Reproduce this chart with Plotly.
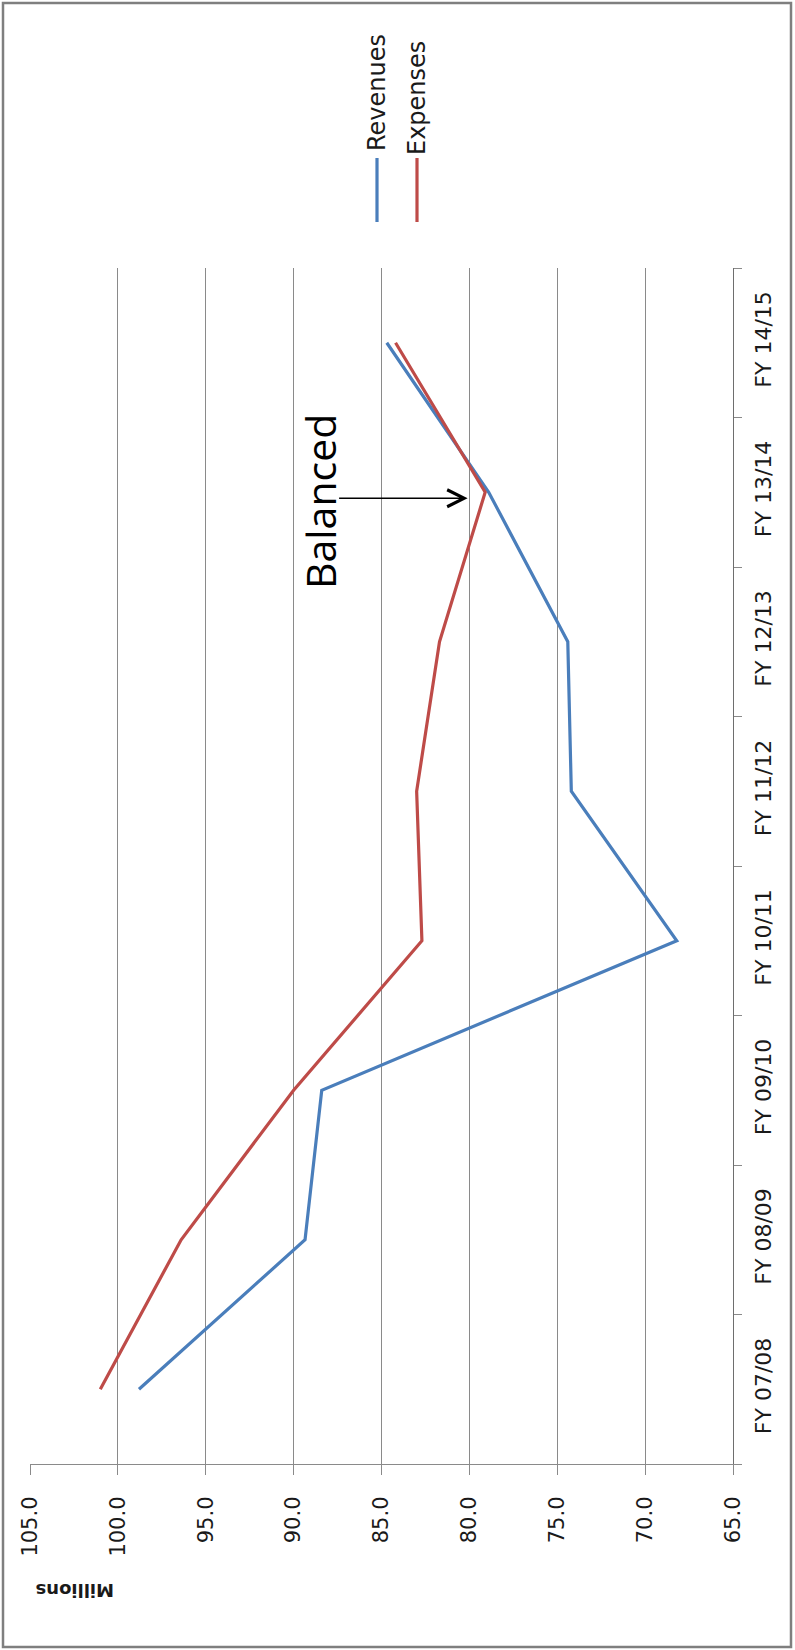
import plotly.graph_objects as go

categories = ["FY 07/08", "FY 08/09", "FY 09/10", "FY 10/11",
              "FY 11/12", "FY 12/13", "FY 13/14", "FY 14/15"]
revenues = [98.8, 89.35, 88.4, 68.2, 74.2, 74.4, 78.9, 84.7]
expenses = [101.0, 96.4, 90.0, 82.7, 83.0, 81.7, 79.1, 84.2]
value_ticks = [65, 70, 75, 80, 85, 90, 95, 100, 105]

BLUE = "#4A7EBB"
RED = "#BE4B48"
GRID = "#8a8a8a"

W, H = 795, 1650
L, R, T, B = 30, 62, 268, 186
PW, PH = W - L - R, H - T - B


def pxp(x):
    return (x - L) / PW


def pyp(y):
    return (H - B - y) / PH


idx = list(range(len(categories)))

fig = go.Figure()
fig.add_trace(go.Scatter(x=revenues, y=idx, mode="lines", name="Revenues",
                         line=dict(color=BLUE, width=3.2), showlegend=False))
fig.add_trace(go.Scatter(x=expenses, y=idx, mode="lines", name="Expenses",
                         line=dict(color=RED, width=3.2), showlegend=False))

tickfont_v = dict(family="DejaVu Sans", size=21, color="#1a1a1a")
tickfont_c = dict(family="DejaVu Sans", size=22, color="#1a1a1a")

fig.update_layout(
    width=W, height=H, autosize=False,
    margin=dict(l=L, r=R, t=T, b=B, pad=0),
    paper_bgcolor="white", plot_bgcolor="white",
    xaxis=dict(range=[105, 65], tickvals=value_ticks, tickformat=".1f",
               tickangle=-90, tickfont=tickfont_v, showgrid=True, gridcolor=GRID,
               gridwidth=1, zeroline=False, showline=True, linecolor=GRID,
               linewidth=1.2, ticks="outside", ticklen=10, tickcolor=GRID,
               automargin=False, ticklabelstandoff=13),
    yaxis=dict(range=[-0.5, 7.5], side="right",
               tickmode="array", tickvals=idx, ticktext=categories,
               ticks="", showline=True,
               linecolor="#6e6e6e", linewidth=1.2, showgrid=False, zeroline=False,
               tickangle=-90, tickfont=tickfont_c, automargin=False,
               ticklabelstandoff=10,
               minor=dict(tickvals=[i - 0.5 for i in range(len(categories) + 1)],
                          ticks="outside", ticklen=8, tickcolor=GRID, showgrid=False)),
)

annotations = [
    dict(text="Revenues", x=pxp(377), y=pyp(93), xref="paper", yref="paper",
         textangle=-90, showarrow=False, xanchor="center", yanchor="middle",
         font=dict(family="DejaVu Sans", size=24, color="#1a1a1a")),
    dict(text="Expenses", x=pxp(417), y=pyp(98), xref="paper", yref="paper",
         textangle=-90, showarrow=False, xanchor="center", yanchor="middle",
         font=dict(family="DejaVu Sans", size=24, color="#1a1a1a")),
    dict(text="<b>Millions</b>", x=pxp(75), y=pyp(1591), xref="paper", yref="paper",
         textangle=180, showarrow=False, xanchor="center", yanchor="middle",
         font=dict(family="DejaVu Sans", size=18, color="#1a1a1a")),
    dict(text="Balanced", x=pxp(320), y=pyp(502), xref="paper", yref="paper",
         textangle=-90, showarrow=False, xanchor="center", yanchor="middle",
         font=dict(family="Open Sans", size=41, color="black")),
    dict(text="", x=80.1, y=5.96, xref="x", yref="y", showarrow=True,
         ax=-130, ay=0, axref="pixel", ayref="pixel", arrowhead=5,
         arrowsize=2.2, arrowwidth=1.5, arrowcolor="black", standoff=0),
]
fig.update_layout(annotations=annotations)

shapes = [
    dict(type="line", xref="paper", yref="paper", x0=pxp(377), x1=pxp(377),
         y0=pyp(158), y1=pyp(222), line=dict(color=BLUE, width=3.2)),
    dict(type="line", xref="paper", yref="paper", x0=pxp(417), x1=pxp(417),
         y0=pyp(158), y1=pyp(222), line=dict(color=RED, width=3.2)),
    dict(type="rect", xref="paper", yref="paper", x0=pxp(3), x1=pxp(791),
         y0=pyp(1647), y1=pyp(3), line=dict(color="#7f7f7f", width=2.5)),
]
fig.update_layout(shapes=shapes)

fig.write_html(
    "out.html",
    config={"responsive": False, "displayModeBar": False},
    post_script=("document.body.style.margin='0px';"
                 "document.body.style.overflow='hidden';"
                 "document.documentElement.style.overflow='hidden';"),
)
